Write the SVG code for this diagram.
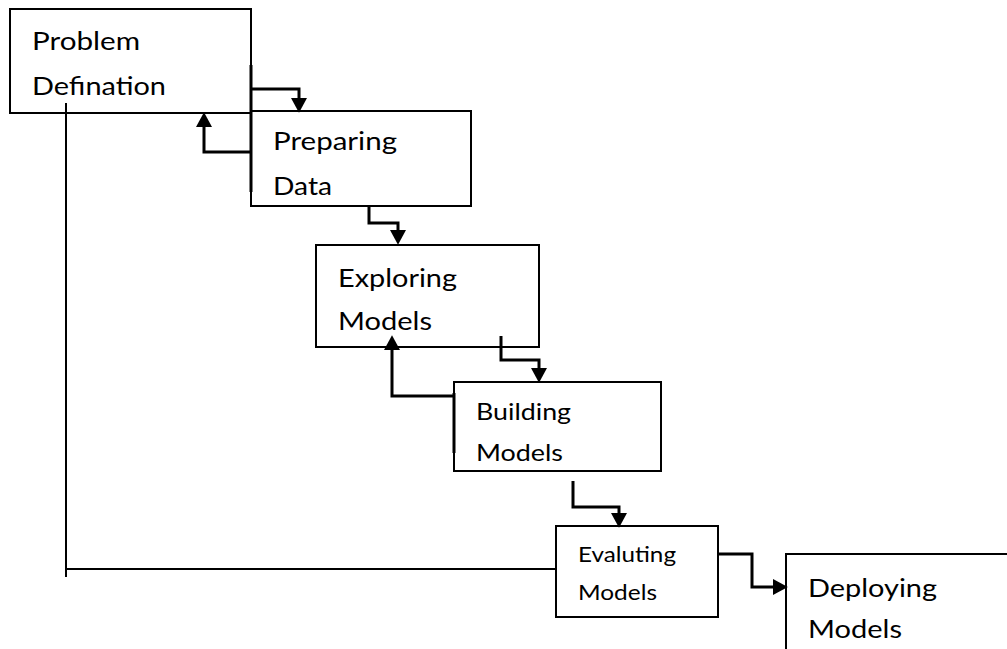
<svg xmlns="http://www.w3.org/2000/svg" width="1007" height="649" viewBox="0 0 1007 649">
<style>
.box{fill:none;stroke:#000;stroke-width:2}
.t{font-family:Lato,"Open Sans","Liberation Sans",sans-serif;fill:#000;font-size:25px}
.s{font-size:23px}
.xs{font-size:21px}
.c{fill:none;stroke:#000;stroke-width:3}
.thin{fill:none;stroke:#000;stroke-width:2}
</style>
<defs>
<marker id="ah" markerUnits="userSpaceOnUse" markerWidth="16" markerHeight="16" refX="0" refY="7" orient="auto" viewBox="0 0 14 14">
<path d="M0,0 L13,7 L0,14 z" fill="#000"/>
</marker>
</defs>
<rect width="1007" height="649" fill="#fff"/>
<g id="connectors">
<path class="thin" d="M66,103 V577 M66,569 H556"/>
<path class="c" d="M251,65 V113"/>
<path class="c" d="M251,89 H299 V98" marker-end="url(#ah)"/>
<path class="c" d="M251,113 V192"/>
<path class="c" d="M251,152 H204 V127" marker-end="url(#ah)"/>
<path class="c" d="M369,205 V223 H398 V230" marker-end="url(#ah)"/>
<path class="c" d="M501,336 V360 H539 V368" marker-end="url(#ah)"/>
<path class="c" d="M454,393 V453"/>
<path class="c" d="M454,396 H392 V350" marker-end="url(#ah)"/>
<path class="c" d="M573,481 V507 H619 V513" marker-end="url(#ah)"/>
<path class="c" d="M718,554 H752 V587 H773" marker-end="url(#ah)"/>
</g>
<g id="problem">
<rect class="box" x="10" y="9" width="241" height="104"/>
<text class="t" x="32" y="50" textLength="108" lengthAdjust="spacingAndGlyphs">Problem</text>
<text class="t" x="32" y="95" textLength="134" lengthAdjust="spacingAndGlyphs">Defination</text>
</g>
<g id="preparing">
<rect class="box" x="251" y="111" width="220" height="95"/>
<text class="t" x="273" y="150" textLength="124" lengthAdjust="spacingAndGlyphs">Preparing</text>
<text class="t" x="273" y="195" textLength="59" lengthAdjust="spacingAndGlyphs">Data</text>
</g>
<g id="exploring">
<rect class="box" x="316" y="245" width="223" height="102"/>
<text class="t" x="338" y="287" textLength="119" lengthAdjust="spacingAndGlyphs">Exploring</text>
<text class="t" x="338" y="330" textLength="94" lengthAdjust="spacingAndGlyphs">Models</text>
</g>
<g id="building">
<rect class="box" x="454" y="382" width="207" height="89"/>
<text class="t s" x="476" y="420" textLength="95" lengthAdjust="spacingAndGlyphs">Building</text>
<text class="t s" x="476" y="461" textLength="87" lengthAdjust="spacingAndGlyphs">Models</text>
</g>
<g id="evaluating">
<rect class="box" x="556" y="526" width="162" height="91"/>
<text class="t xs" x="578" y="562" textLength="98" lengthAdjust="spacingAndGlyphs">Evaluting</text>
<text class="t xs" x="578" y="600" textLength="79" lengthAdjust="spacingAndGlyphs">Models</text>
</g>
<g id="deploying">
<path class="thin" d="M1007,554 H786 V649"/>
<text class="t" x="808" y="597" textLength="129" lengthAdjust="spacingAndGlyphs">Deploying</text>
<text class="t" x="808" y="638" textLength="94" lengthAdjust="spacingAndGlyphs">Models</text>
</g>
</svg>
